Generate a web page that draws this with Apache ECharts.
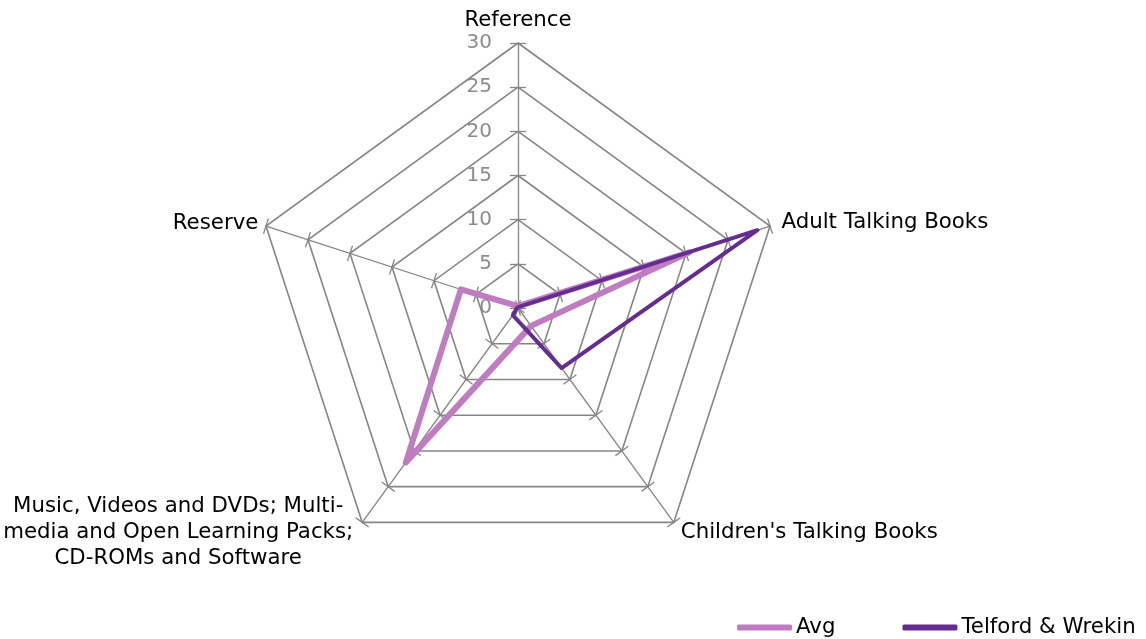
<!DOCTYPE html>
<html><head><meta charset="utf-8">
<script src="https://cdn.jsdelivr.net/npm/echarts@6/dist/echarts.min.js"></script>
<style>html,body{margin:0;padding:0;background:#fff}#c{width:1146px;height:639px}</style>
</head><body><div id="c"></div>
<script>
// clockwise order, starting at the top
var categories = ['Reference', 'Adult Talking Books', "Children's Talking Books", 'Music, Videos and DVDs; Multi-\nmedia and Open Learning Packs;\nCD-ROMs and Software', 'Reserve'];
var avgValues = [0.2, 20.4, 2.5, 21.6, 6.8];
var telfordValues = [0.1, 28.5, 8.4, 1.0, 0.1];
var seriesNames = ['Avg', 'Telford & Wrekin'];
var axisMax = 30;
var axisInterval = 5;

// ECharts radar runs counter-clockwise, so reverse all but the first entry
function cw(arr) { return [arr[0]].concat(arr.slice(1).reverse()); }
var gaps = cw([8, 12, 12, 12, 8]);

var font = 'DejaVu Sans, Verdana, sans-serif';
var fs = 21.3;
var grey = '#868686';
var chart = echarts.init(document.getElementById('c'), null, {renderer: 'canvas'});
var base = {
  center: [518, 308],
  radius: 265,
  shape: 'polygon',
  startAngle: 90,
  splitNumber: axisMax / axisInterval,
  splitArea: {show: false}
};
chart.setOption({
  animation: false,
  backgroundColor: '#fff',
  legend: {
    data: seriesNames,
    left: 732, top: 612,
    itemWidth: 55, itemHeight: 6, itemGap: 67,
    icon: 'roundRect',
    textStyle: {fontFamily: font, fontSize: fs, color: '#000', padding: [0,0,0,-1]}
  },
  radar: [
    Object.assign({}, base, {
      nameGap: 8,
      axisName: {
        fontFamily: font, fontSize: fs, color: '#000', lineHeight: 26,
        formatter: function (name) {
          if (name.indexOf('\n') < 0) return name;
          return name.split('\n').map(function (l) { return '{m|' + l + '}'; }).join('\n');
        },
        rich: {m: {fontFamily: font, fontSize: fs, color: '#000', lineHeight: 26, width: 354, align: 'center'}}
      },
      indicator: cw(categories).map(function (c, i) {
        var o = {name: c, min: 0, max: axisMax, nameGap: gaps[i]};
        if (i === 0) o.axisLabel = {show: true};
        return o;
      }),
      axisLine: {lineStyle: {color: grey, width: 1.3}},
      splitLine: {lineStyle: {color: grey, width: 1.6}},
      axisTick: {show: true, length: 8, lineStyle: {color: grey, width: 1.3}},
      axisLabel: {show: false, fontFamily: font, fontSize: 20, color: '#8c8c8c', margin: 26}
    }),
    Object.assign({}, base, {
      axisName: {show: false},
      indicator: cw(categories).map(function (c) { return {name: c, min: 0, max: axisMax}; }),
      axisLine: {show: false},
      splitLine: {show: false},
      axisTick: {show: true, length: -8, lineStyle: {color: grey, width: 1.3}},
      axisLabel: {show: false}
    })
  ],
  series: [{
    type: 'radar',
    radarIndex: 0,
    symbol: 'none',
    data: [
      {name: seriesNames[0], value: cw(avgValues), lineStyle: {color: '#C07CC0', width: 6}, itemStyle: {color: '#C07CC0'}},
      {name: seriesNames[1], value: cw(telfordValues), lineStyle: {color: '#662D91', width: 4}, itemStyle: {color: '#662D91'}}
    ]
  }]
});
</script></body></html>
